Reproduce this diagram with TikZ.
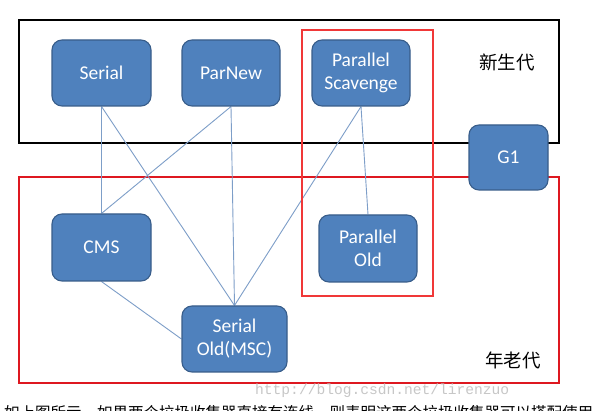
\documentclass[tikz,border=0pt]{standalone}
\usepackage{fontspec}
\setmainfont{Carlito}
\newfontfamily\cjk{Noto Sans CJK SC}
\newfontfamily\wmfont{Liberation Mono}
\definecolor{gcfill}{RGB}{79,129,189}
\definecolor{gcdraw}{RGB}{56,93,138}
\definecolor{linkc}{RGB}{125,158,200}
\definecolor{redA}{RGB}{222,24,32}
\definecolor{redB}{RGB}{240,56,56}
\pgfdeclarelayer{zonelayer}
\pgfdeclarelayer{linklayer}
\pgfdeclarelayer{toplayer}
\pgfsetlayers{zonelayer,linklayer,main,toplayer}
\begin{document}
\begin{tikzpicture}[x=1pt,y=-1pt,
  gc/.style={rectangle, rounded corners=10pt, fill=gcfill, draw=gcdraw, line width=1.1pt,
    text=white, align=center, inner sep=0pt,
    font=\fontsize{19.5}{23}\selectfont},
  link/.style={draw=linkc, line width=0.9pt},
  zone/.style={line width=2pt}]
\useasboundingbox (0,0) rectangle (592,411);
\clip (0,0) rectangle (592,411);
% zones
\begin{pgfonlayer}{zonelayer}
\fill[white] (0,0) rectangle (592,411);
\draw[zone, black] (19,20) rectangle (559,143);
\draw[zone, redA] (19,177) rectangle (559,383);
\end{pgfonlayer}
% nodes
\node[gc, minimum width=99pt, minimum height=66pt] (serial) at (101.5,73) {Serial};
\node[gc, minimum width=98pt, minimum height=66pt] (parnew) at (231,73) {ParNew};
\node[gc, minimum width=98pt, minimum height=66pt] (ps) at (361,73) {Parallel\\Scavenge};
\node[gc, minimum width=79pt, minimum height=65pt] (g1) at (508.5,157.5) {G1};
\node[gc, minimum width=99pt, minimum height=67pt] (cms) at (101.5,247.5) {CMS};
\node[gc, minimum width=105pt, minimum height=66pt] (sold) at (234.5,339) {Serial\\Old(MSC)};
\node[gc, minimum width=98pt, minimum height=67pt] (pold) at (368,248.5) {Parallel\\Old};
% links
\begin{pgfonlayer}{linklayer}
\draw[link] (serial.south) -- (cms.north);
\draw[link] (serial.south) -- (sold.north);
\draw[link] (parnew.south) -- (cms.north);
\draw[link] (parnew.south) -- (sold.north);
\draw[link] (ps.south) -- (sold.north);
\draw[link] (ps.south) -- (pold.north);
\draw[link] (cms.south) -- (sold.west);
\end{pgfonlayer}
\begin{pgfonlayer}{toplayer}
\draw[zone, redB, line width=2.4pt] (302,30) rectangle (433,296);
\end{pgfonlayer}
% labels
\node[font=\cjk\fontsize{18.5}{20}\selectfont] (young) at (507,62) {新生代};
\node[font=\cjk\fontsize{18.5}{20}\selectfont] (old) at (513,360) {年老代};
\node[font=\wmfont\fontsize{14.6}{16}\selectfont, text=black!22, anchor=west, inner sep=0pt] (wm) at (255,391) {http://blog.csdn.net/lirenzuo};
\node[font=\cjk\fontsize{15.5}{18}\selectfont, anchor=base west, inner sep=0pt] (cap) at (4,418.5) {如上图所示，如果两个垃圾收集器直接有连线，则表明这两个垃圾收集器可以搭配使用};
\end{tikzpicture}
\end{document}
